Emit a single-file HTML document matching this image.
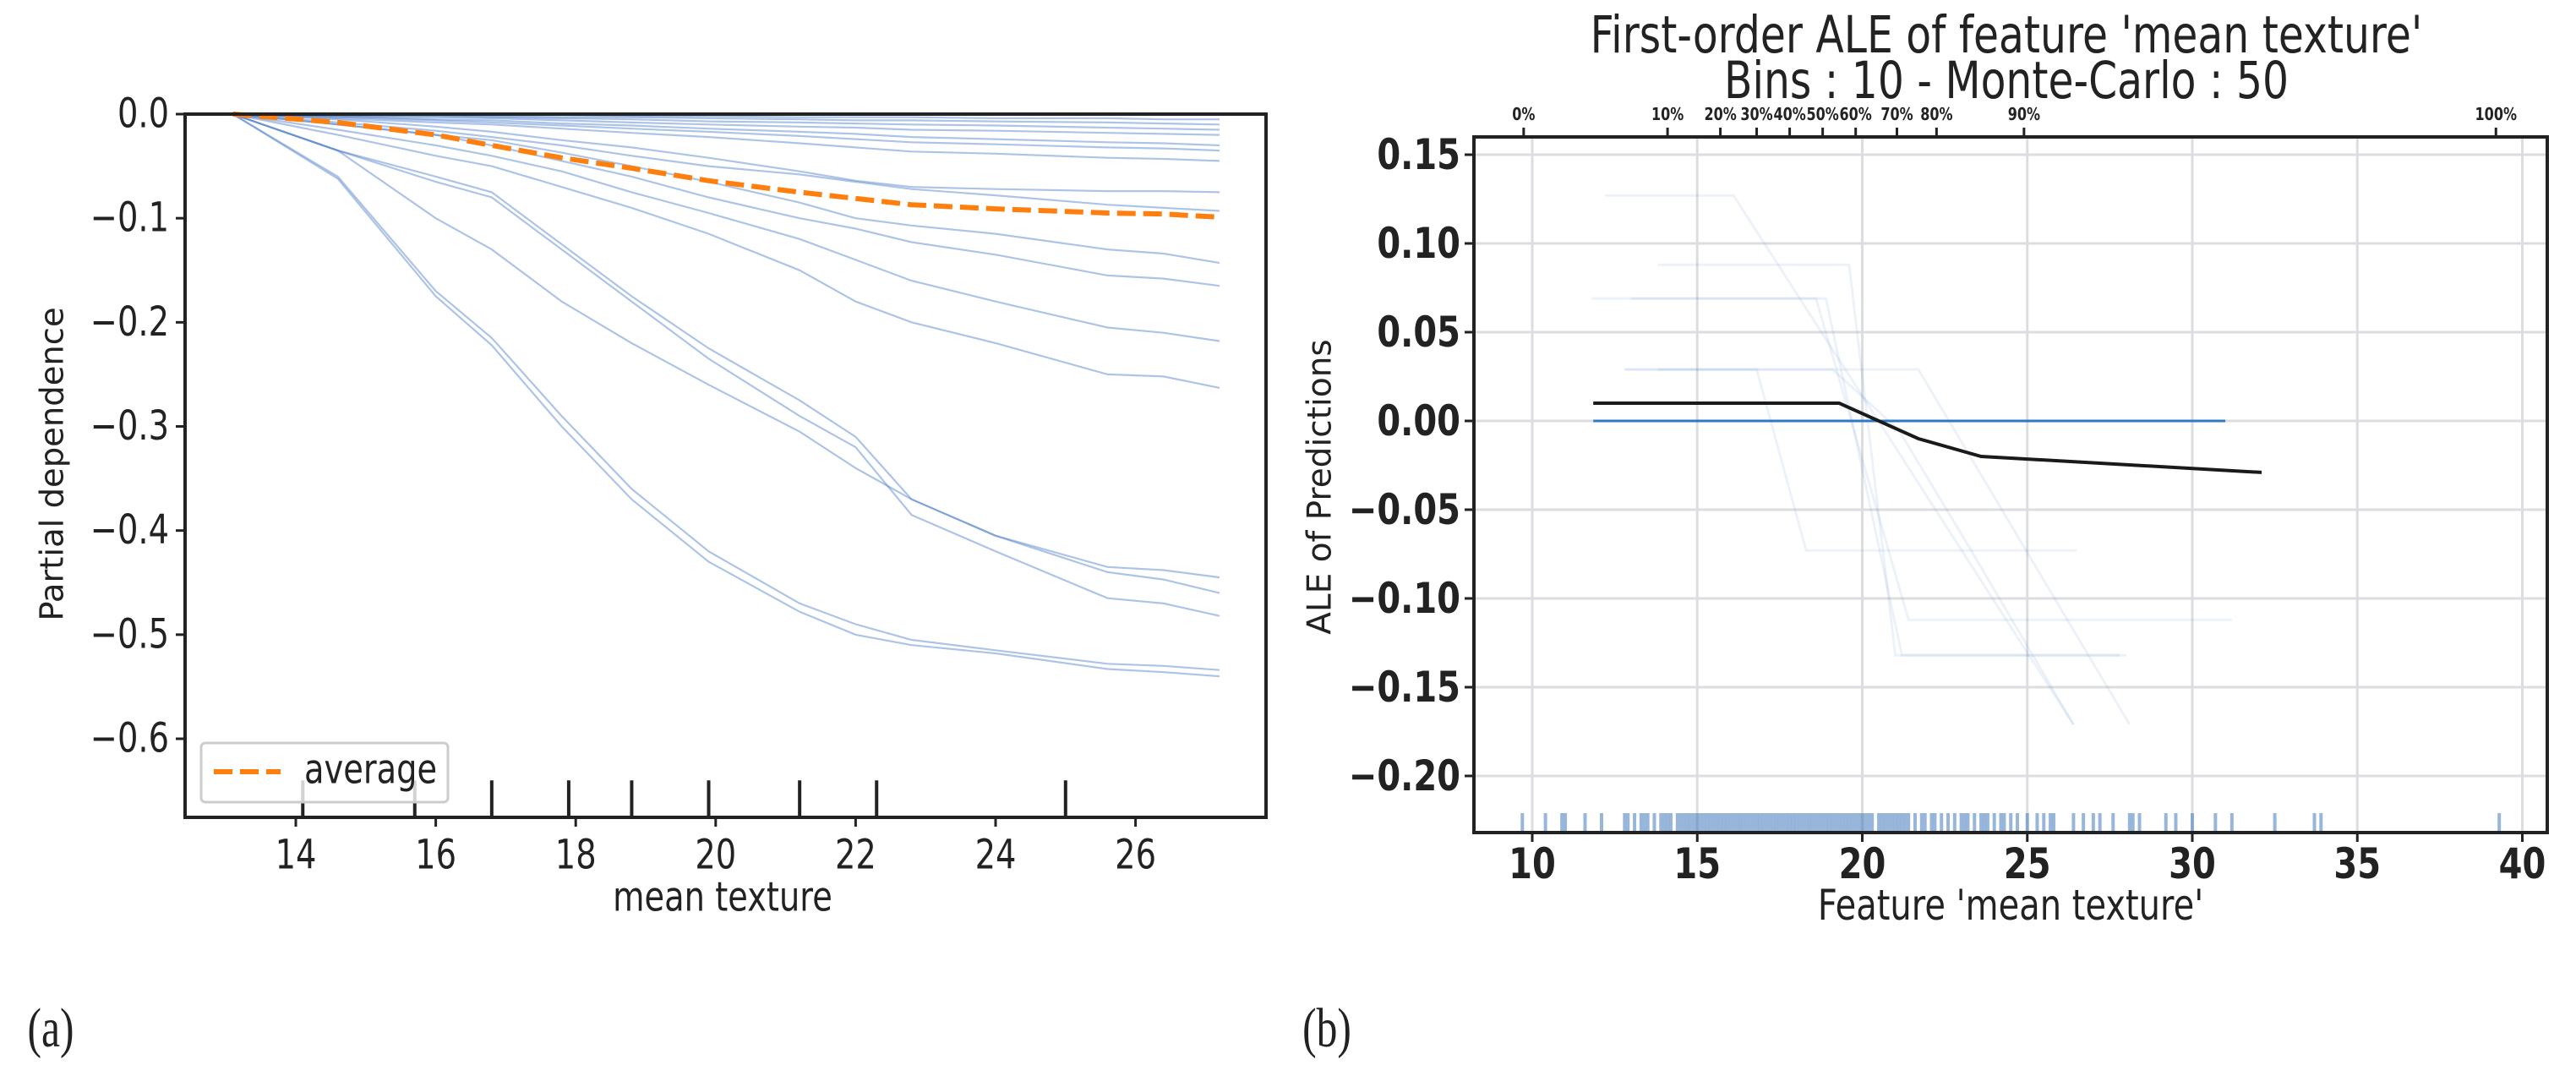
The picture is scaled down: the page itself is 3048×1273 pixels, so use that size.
<!DOCTYPE html>
<html><head><meta charset="utf-8">
<style>
html,body{margin:0;padding:0;background:#fff;}
svg{display:block;}
text{font-family:"DejaVu Sans","Liberation Sans",sans-serif;fill:#222;}
</style></head>
<body>
<svg id="fig" width="3048" height="1273" viewBox="0 0 3048 1273" xmlns="http://www.w3.org/2000/svg">
<g id="left"></g>
<g id="right"></g>
</svg>
<script>
// ---------- Left chart data ----------
const pdGridX = [13.1, 14.6, 16.0, 16.8, 17.8, 18.8, 19.9, 21.2, 22.0, 22.8, 24.0, 25.6, 26.4, 27.2];
const pdCurve1 = [0, -0.06, -0.17, -0.215, -0.29, -0.36, -0.42, -0.47, -0.49, -0.505, -0.515, -0.528, -0.53, -0.534];
const pdCurve2 = [0, -0.062, -0.175, -0.222, -0.30, -0.37, -0.43, -0.478, -0.50, -0.51, -0.518, -0.533, -0.536, -0.54];
const pdCurve3 = [0, -0.035, -0.10, -0.13, -0.18, -0.22, -0.26, -0.305, -0.34, -0.37, -0.405, -0.435, -0.438, -0.445];
const pdCurve4 = [0, -0.035, -0.06, -0.075, -0.125, -0.175, -0.225, -0.275, -0.31, -0.37, -0.405, -0.44, -0.447, -0.46];
const pdCurve5 = [0, -0.035, -0.065, -0.08, -0.13, -0.18, -0.235, -0.29, -0.32, -0.385, -0.42, -0.465, -0.47, -0.482];
const pdCurve6 = [0, -0.02, -0.04, -0.05, -0.07, -0.09, -0.115, -0.15, -0.18, -0.20, -0.22, -0.25, -0.252, -0.263];
const pdCurve7 = [0, -0.015, -0.03, -0.04, -0.055, -0.075, -0.095, -0.12, -0.14, -0.16, -0.18, -0.205, -0.21, -0.218];
const pdCurve8 = [0, -0.01, -0.02, -0.03, -0.045, -0.06, -0.08, -0.1, -0.11, -0.123, -0.135, -0.155, -0.158, -0.165];
const pdCurve9 = [0, -0.01, -0.02, -0.025, -0.037, -0.05, -0.065, -0.085, -0.1, -0.107, -0.115, -0.13, -0.134, -0.143];
const pdCurve10 = [0, -0.008, -0.016, -0.022, -0.03, -0.04, -0.05, -0.058, -0.065, -0.072, -0.078, -0.087, -0.09, -0.093];
const pdCurve11 = [0, -0.005, -0.012, -0.017, -0.025, -0.032, -0.042, -0.055, -0.064, -0.07, -0.072, -0.074, -0.074, -0.075];
const pdCurve12 = [0, -0.004, -0.008, -0.01, -0.014, -0.018, -0.022, -0.028, -0.032, -0.036, -0.038, -0.042, -0.043, -0.045];
const pdCurve13 = [0, -0.003, -0.006, -0.008, -0.011, -0.014, -0.017, -0.021, -0.024, -0.027, -0.029, -0.032, -0.033, -0.035];
const pdCurve14 = [0, -0.002, -0.005, -0.006, -0.009, -0.011, -0.014, -0.017, -0.019, -0.022, -0.024, -0.027, -0.028, -0.03];
const pdCurve15 = [0, -0.002, -0.003, -0.004, -0.006, -0.008, -0.01, -0.012, -0.013, -0.015, -0.016, -0.018, -0.019, -0.02];
const pdCurve16 = [0, -0.001, -0.002, -0.003, -0.004, -0.005, -0.007, -0.008, -0.009, -0.01, -0.011, -0.013, -0.014, -0.015];
const pdCurve17 = [0, -0.001, -0.001, -0.002, -0.003, -0.003, -0.004, -0.005, -0.006, -0.006, -0.007, -0.008, -0.009, -0.01];
const pdCurve18 = [0, 0, -0.001, -0.001, -0.001, -0.002, -0.002, -0.003, -0.003, -0.003, -0.004, -0.004, -0.005, -0.005];
const pdAverage = [0, -0.008, -0.02, -0.03, -0.042, -0.052, -0.064, -0.075, -0.081, -0.087, -0.091, -0.095, -0.096, -0.099];
const pdRug = [14.1, 15.7, 16.8, 17.9, 18.8, 19.9, 21.2, 22.3, 25.0];
const pdXTicks = [14, 16, 18, 20, 22, 24, 26];
const pdYTicks = [0.0, -0.1, -0.2, -0.3, -0.4, -0.5, -0.6];
const pdYTickLabels = ["0.0", "\u22120.1", "\u22120.2", "\u22120.3", "\u22120.4", "\u22120.5", "\u22120.6"];

// ---------- Right chart data ----------
const aleX = [11.85, 19.3, 21.7, 23.6, 32.1];
const aleY = [0.01, 0.01, -0.01, -0.02, -0.029];
const aleZeroX = [11.85, 31.0];
const mc1X = [12.2, 16.1, 26.4]; const mc1Y = [0.127, 0.127, -0.171];
const mc2X = [13.8, 19.6, 21.0, 28.0]; const mc2Y = [0.088, 0.088, -0.132, -0.132];
const mc3X = [11.8, 18.6, 21.4, 31.2]; const mc3Y = [0.069, 0.069, -0.112, -0.112];
const mc4X = [13.0, 18.9, 21.2, 27.8]; const mc4Y = [0.069, 0.069, -0.132, -0.132];
const mc5X = [12.8, 16.8, 18.3, 26.5]; const mc5Y = [0.029, 0.029, -0.073, -0.073];
const mc6X = [13.8, 21.7, 28.1]; const mc6Y = [0.029, 0.029, -0.171];
const mc7X = [12.8, 19.1, 21.1, 23.3, 26.4]; const mc7Y = [0.029, 0.029, -0.005, -0.073, -0.171];
const aleRug = [9.7,10.4,10.9,11.0,11.6,12.1,12.8,12.9,13.1,13.3,13.4,13.5,13.7,13.9,14.0,14.1,14.2,14.4,14.5,14.6,14.7,14.8,14.9,15.0,15.1,15.2,15.3,15.4,15.5,15.6,15.7,15.8,15.9,16.0,16.1,16.2,16.3,16.4,16.5,16.6,16.7,16.8,16.9,17.0,17.1,17.2,17.3,17.4,17.5,17.6,17.7,17.8,17.9,18.0,18.1,18.2,18.3,18.4,18.5,18.6,18.7,18.8,18.9,19.0,19.1,19.2,19.3,19.4,19.5,19.6,19.7,19.8,19.9,20.0,20.1,20.2,20.3,20.5,20.6,20.7,20.8,20.9,21.0,21.1,21.2,21.3,21.4,21.6,21.8,21.9,22.1,22.2,22.4,22.6,22.8,23.0,23.1,23.2,23.4,23.6,23.7,23.8,24.0,24.2,24.3,24.5,24.7,25.0,25.3,25.5,25.7,25.8,26.4,26.7,27.0,27.2,27.6,28.1,28.2,28.4,29.2,29.5,30.0,30.7,31.2,32.5,33.7,33.9,39.3];
const aleXTicks = [10, 15, 20, 25, 30, 35, 40];
const aleYTicks = [0.15, 0.10, 0.05, 0.00, -0.05, -0.10, -0.15, -0.20];
const aleYTickLabels = ["0.15", "0.10", "0.05", "0.00", "\u22120.05", "\u22120.10", "\u22120.15", "\u22120.20"];
const decileValues = [9.74, 14.1, 15.7, 16.8, 17.8, 18.8, 19.8, 21.05, 22.25, 24.9, 39.2];
const decileLabels = ["0%","10%","20%","30%","40%","50%","60%","70%","80%","90%","100%"];

// ---------- helpers ----------
const NS = "http://www.w3.org/2000/svg";
function mk(parent, tag, attrs) {
  const el = document.createElementNS(NS, tag);
  for (const k in attrs) el.setAttribute(k, attrs[k]);
  parent.appendChild(el);
  return el;
}
function txt(parent, x, y, s, size, anchor, weight, fill, sx, rot) {
  const t = document.createElementNS(NS, "text");
  let tr = "translate(" + x + "," + y + ")";
  if (rot) tr += " rotate(" + rot + ")";
  tr += " scale(" + sx + ",1)";
  t.setAttribute("transform", tr);
  t.setAttribute("font-size", size);
  t.setAttribute("text-anchor", anchor);
  t.setAttribute("dominant-baseline", "central");
  if (weight) t.setAttribute("font-weight", weight);
  if (fill) t.setAttribute("fill", fill);
  t.textContent = s;
  parent.appendChild(t);
  return t;
}
function pts(xs, ys, fx, fy) { return xs.map((v, i) => fx(v).toFixed(1) + "," + fy(ys[i]).toFixed(1)).join(" "); }

// ---------- Left chart ----------
const L = document.getElementById("left");
const lx = v => 350 + (v - 14) * 82.8;
const ly = v => 135 + (-v) * 1231.7;
const curves = [pdCurve1,pdCurve2,pdCurve3,pdCurve4,pdCurve5,pdCurve6,pdCurve7,pdCurve8,pdCurve9,pdCurve10,pdCurve11,pdCurve12,pdCurve13,pdCurve14,pdCurve15,pdCurve16,pdCurve17,pdCurve18];
curves.forEach((c) => {
  const p = mk(L, "polyline", {points: pts(pdGridX, c, lx, ly), fill: "none", stroke: "#4a7cc9", "stroke-opacity": "0.45", "stroke-width": "2.2"});
  
  
});
const avg = mk(L, "polyline", {points: pts(pdGridX, pdAverage, lx, ly), fill: "none", stroke: "#ff7f0e", "stroke-width": "6", "stroke-dasharray": "22,9"});


pdRug.forEach(v => {
  const r = mk(L, "line", {x1: lx(v), x2: lx(v), y1: ly(-0.64), y2: 967, stroke: "#222", "stroke-width": "4"});
  
  
});
// legend
const lg = mk(L, "g", {});


mk(lg, "rect", {x: 238, y: 879, width: 292, height: 70, rx: 5, fill: "#fff", "fill-opacity": "0.8", stroke: "#ccc", "stroke-width": "3"});
mk(lg, "line", {x1: 253, x2: 332, y1: 913, y2: 913, stroke: "#ff7f0e", "stroke-width": "6", "stroke-dasharray": "22,9"});
txt(lg, 360, 911, "average", 48, "start", null, "#222", 0.8);
// axes frame
const lf = mk(L, "rect", {x: 219, y: 135, width: 1279, height: 832, fill: "none", stroke: "#222", "stroke-width": "4"});


pdXTicks.forEach(v => {
  mk(L, "line", {x1: lx(v), x2: lx(v), y1: 967, y2: 978, stroke: "#222", "stroke-width": "3"});
  const t = txt(L, lx(v), 1012, String(v), 48, "middle", null, "#222", 0.8);
  
  
});
pdYTicks.forEach((v, i) => {
  mk(L, "line", {x1: 208, x2: 219, y1: ly(v), y2: ly(v), stroke: "#222", "stroke-width": "3"});
  const t = txt(L, 200, ly(v), pdYTickLabels[i], 48, "end", null, "#222", 0.8);
  
  
});
const lxt = txt(L, 855, 1062, "mean texture", 48, "middle", null, "#222", 0.8);


const lyt = txt(L, 62, 549, "Partial dependence", 38.5, "middle", null, "#222", 1, -90);


const pa = txt(L, 60, 1216, "(a)", 66, "middle", null, "#222", 0.75);
pa.setAttribute("style", "font-family:'Liberation Serif',serif");



// ---------- Right chart ----------
const R = document.getElementById("right");
const rx = v => 1813 + (v - 10) * 39.05;
const ry = v => 183 + (0.15 - v) * 2100;
aleXTicks.forEach(v => {
  const g = mk(R, "line", {x1: rx(v), x2: rx(v), y1: 162, y2: 985, stroke: "#dcdde0", "stroke-width": "3"});
  
  
});
aleYTicks.forEach(v => {
  const g = mk(R, "line", {x1: 1744, x2: 3014, y1: ry(v), y2: ry(v), stroke: "#dcdde0", "stroke-width": "3"});
  
  
});
aleRug.forEach(v => {
  const r = mk(R, "line", {x1: rx(v), x2: rx(v), y1: 962, y2: 983, stroke: "#2f6db5", "stroke-opacity": "0.5", "stroke-width": "4"});
  
  
});
[[mc1X,mc1Y],[mc2X,mc2Y],[mc3X,mc3Y],[mc4X,mc4Y],[mc5X,mc5Y],[mc6X,mc6Y],[mc7X,mc7Y]].forEach(([xs, ys]) => {
  const p = mk(R, "polyline", {points: pts(xs, ys, rx, ry), fill: "none", stroke: "#4a7cc9", "stroke-opacity": "0.1", "stroke-width": "3"});
  
  
});
const zl = mk(R, "line", {x1: rx(aleZeroX[0]), x2: rx(aleZeroX[1]), y1: ry(0), y2: ry(0), stroke: "#2f78c4", "stroke-width": "3"});


const al = mk(R, "polyline", {points: pts(aleX, aleY, rx, ry), fill: "none", stroke: "#1a1a1a", "stroke-width": "4"});


const rf = mk(R, "rect", {x: 1744, y: 162, width: 1270, height: 823, fill: "none", stroke: "#222", "stroke-width": "4"});


aleXTicks.forEach(v => {
  mk(R, "line", {x1: rx(v), x2: rx(v), y1: 985, y2: 996, stroke: "#222", "stroke-width": "3"});
  const t = txt(R, rx(v), 1022, String(v), 50, "middle", "bold", "#222", 0.8);
  
  
});
aleYTicks.forEach((v, i) => {
  mk(R, "line", {x1: 1733, x2: 1744, y1: ry(v), y2: ry(v), stroke: "#222", "stroke-width": "3"});
  const t = txt(R, 1728, ry(v), aleYTickLabels[i], 50, "end", "bold", "#222", 0.8);
  
  
});
decileValues.forEach((v, i) => {
  mk(R, "line", {x1: rx(v), x2: rx(v), y1: 151, y2: 162, stroke: "#222", "stroke-width": "3"});
  const t = txt(R, rx(v), 136, decileLabels[i], 20, "middle", "bold", "#6b6b6b", 0.8);
  
  
});
const t1 = txt(R, 2374, 42, "First-order ALE of feature 'mean texture'", 61, "middle", null, "#222", 0.8);


const t2 = txt(R, 2374, 96, "Bins : 10 - Monte-Carlo : 50", 61, "middle", null, "#222", 0.8);


const rxt = txt(R, 2379, 1071, "Feature 'mean texture'", 50, "middle", null, "#222", 0.8);


const ryt = txt(R, 1562, 576, "ALE of Predictions", 39, "middle", null, "#222", 1, -90);


const pb = txt(R, 1570, 1216, "(b)", 66, "middle", null, "#222", 0.75);
pb.setAttribute("style", "font-family:'Liberation Serif',serif");


</script>
</body></html>
